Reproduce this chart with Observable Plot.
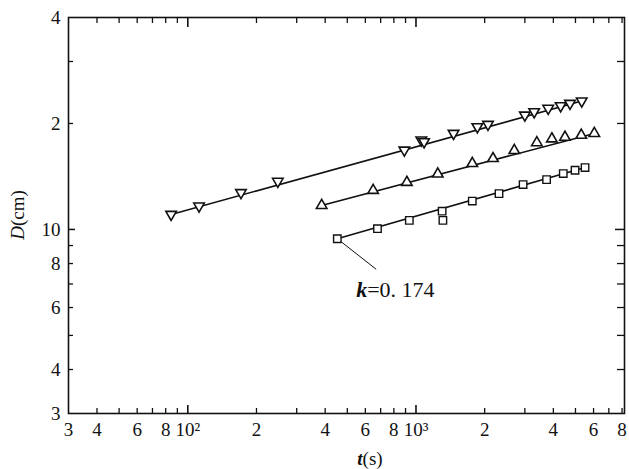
<!DOCTYPE html>
<html><head><meta charset="utf-8">
<script src="https://cdn.jsdelivr.net/npm/d3@7"></script>
<script src="https://cdn.jsdelivr.net/npm/@observablehq/plot@0.6"></script>
<style>body{margin:0;background:#fff}</style>
</head><body><div id="chart"></div>
<script>
// Series (t in s, D in cm)
const downT = [84.5, 112, 171, 248, 889, 1055, 1085, 1461, 1857, 2068, 3000, 3295, 3797, 4305, 4731, 5325];
const downD = [11.03, 11.65, 12.72, 13.70, 16.80, 17.95, 17.75, 18.74, 19.57, 19.88, 21.12, 21.59, 22.08, 22.46, 22.81, 23.16];
const upT = [386, 649, 912, 1246, 1765, 2175, 2696, 3386, 3941, 4497, 5300, 6046];
const upD = [11.70, 12.91, 13.61, 14.37, 15.39, 15.90, 16.76, 17.64, 18.09, 18.28, 18.52, 18.74];
const sqT = [452, 678, 935, 1302, 1312, 1765, 2311, 2947, 3736, 4420, 4978, 5507];
const sqD = [9.41, 10.05, 10.61, 11.27, 10.61, 12.04, 12.64, 13.41, 13.85, 14.41, 14.73, 14.99];
// Fitted straight lines (end points)
const fitDownT = [84.5, 5325], fitDownD = [11.03, 23.16];
const fitUpT = [386, 6046], fitUpD = [11.70, 18.74];
const fitSqT = [452, 5507], fitSqD = [9.41, 14.99];
// Annotation
const noteLeaderT = [452, 667], noteLeaderD = [9.41, 7.72];
const noteT = 547, noteD = 6.72;
const noteK = "k", noteRest = "=0. 174";
// Ticks
const xMinor = [40,50,60,70,80,90,200,300,400,500,600,700,800,900,2000,3000,4000,5000,6000,7000,8000];
const xMajor = [100, 1000];
const xLabelVals = [30,40,60,80,100,200,400,600,800,1000,2000,4000,6000,8000];
const xLabelTexts = ["3","4","6","8","10²","2","4","6","8","10³","2","4","6","8"];
const yMinor = [30,20,9,8,7,6,5,4];
const yMajor = [10];
const yLabelVals = [40,20,10,8,6,4,3];
const yLabelTexts = ["4","2","10","8","6","4","3"];

const W = 629, H = 469, mL = 68, mR = 5, mT = 17, mB = 56;
const pW = W - mL - mR, pH = H - mT - mB;
const zip = (a, b) => a.map((v, i) => ({t: v, D: b[i]}));
const font = "Liberation Serif, DejaVu Serif, serif";

const plot = Plot.plot({
  width: W, height: H,
  marginLeft: mL, marginRight: mR, marginTop: mT, marginBottom: mB,
  style: {fontFamily: font, background: "#fff"},
  x: {type: "log", domain: [30, 8200], axis: null},
  y: {type: "log", domain: [3, 40], axis: null},
  marks: [
    Plot.frame({stroke: "#111", strokeWidth: 1.6}),
    // bottom ticks
    Plot.ruleX(xMinor, {x: d => d, insetTop: pH - 5, stroke: "#111", strokeWidth: 1.3}),
    Plot.ruleX(xMajor, {x: d => d, insetTop: pH - 8, stroke: "#111", strokeWidth: 1.6}),
    // top ticks
    Plot.ruleX(xMinor, {x: d => d, insetBottom: pH - 6, stroke: "#111", strokeWidth: 1.3}),
    Plot.ruleX(xMajor, {x: d => d, insetBottom: pH - 10, stroke: "#111", strokeWidth: 1.6}),
    // left ticks
    Plot.ruleY(yMinor, {y: d => d, insetRight: pW - 5, stroke: "#111", strokeWidth: 1.3}),
    Plot.ruleY(yMajor, {y: d => d, insetRight: pW - 7, stroke: "#111", strokeWidth: 1.5}),
    // right ticks
    Plot.ruleY(yMinor, {y: d => d, insetLeft: pW - 7, stroke: "#111", strokeWidth: 1.3}),
    Plot.ruleY(yMajor, {y: d => d, insetLeft: pW - 9, stroke: "#111", strokeWidth: 1.5}),
    // tick labels
    Plot.text(xLabelVals, {x: d => d, frameAnchor: "bottom", lineAnchor: "top", dy: 9,
      text: (d, i) => xLabelTexts[i], fontSize: 19, fill: "#111"}),
    Plot.text(yLabelVals, {y: d => d, frameAnchor: "left", textAnchor: "end", dx: -8,
      text: (d, i) => yLabelTexts[i], fontSize: 19, fill: "#111"}),
    // fit lines
    Plot.line(zip(fitDownT, fitDownD), {x: "t", y: "D", stroke: "#111", strokeWidth: 1.6}),
    Plot.line(zip(fitUpT, fitUpD), {x: "t", y: "D", stroke: "#111", strokeWidth: 1.6}),
    Plot.line(zip(fitSqT, fitSqD), {x: "t", y: "D", stroke: "#111", strokeWidth: 1.6}),
    // annotation leader
    Plot.line(zip(noteLeaderT, noteLeaderD), {x: "t", y: "D", stroke: "#111", strokeWidth: 1}),
    // markers
    Plot.dot(zip(downT, downD), {x: "t", y: "D", symbol: "triangle", rotate: 180, r: 3.9,
      fill: "#fff", stroke: "#111", strokeWidth: 1.6}),
    Plot.dot(zip(upT, upD), {x: "t", y: "D", symbol: "triangle", r: 3.9,
      fill: "#fff", stroke: "#111", strokeWidth: 1.6}),
    Plot.dot(zip(sqT, sqD), {x: "t", y: "D", symbol: "square", r: 4.2,
      fill: "#fff", stroke: "#111", strokeWidth: 1.4}),
    // annotation text
    Plot.text([noteK], {x: () => noteT, y: () => noteD, text: d => d, textAnchor: "start",
      fontSize: 22, fontStyle: "italic", fontWeight: "bold", fill: "#111"}),
    Plot.text([noteRest], {x: () => noteT, y: () => noteD, text: d => d, textAnchor: "start", dx: 11,
      fontSize: 22, fill: "#111"})
  ]
});
document.getElementById("chart").appendChild(plot);

// Axis titles
const svg = d3.select(plot);
const xt = svg.append("text").attr("x", 370).attr("y", 465).attr("text-anchor", "middle")
  .attr("font-family", font).attr("font-size", 19).attr("fill", "#111");
xt.append("tspan").attr("font-style", "italic").attr("font-weight", "bold").text("t");
xt.append("tspan").text("(s)");
const yt = svg.append("text").attr("transform", "translate(24,215) rotate(-90)").attr("text-anchor", "middle")
  .attr("font-family", font).attr("font-size", 19).attr("fill", "#111");
yt.append("tspan").attr("font-style", "italic").text("D");
yt.append("tspan").text("(cm)");
</script>
</body></html>
